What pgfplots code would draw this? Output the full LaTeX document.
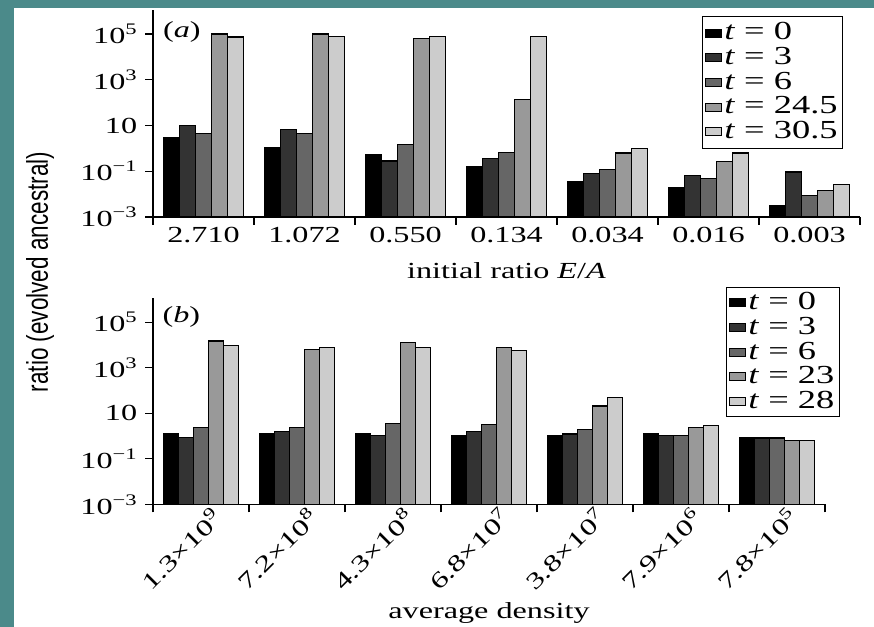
\documentclass[border=0pt]{standalone}
\usepackage{fontspec}
\setmainfont[FakeStretch=1.4]{Liberation Serif}
\newfontfamily\ylabfont[FakeStretch=0.75]{Liberation Sans}
\usepackage{pgfplots}
\pgfplotsset{compat=1.18}
\definecolor{tealbg}{RGB}{75,138,138}
\definecolor{g1}{RGB}{0,0,0}
\definecolor{g2}{RGB}{51,51,51}
\definecolor{g3}{RGB}{102,102,102}
\definecolor{g4}{RGB}{153,153,153}
\definecolor{g5}{RGB}{204,204,204}
\begin{document}
\fontsize{23bp}{27bp}\selectfont
\begin{tikzpicture}[x=1bp,y=1bp]
\useasboundingbox (0,0) rectangle (874,627);
\fill[tealbg] (0,0) rectangle (874,627);
\fill[white] (14,0) rectangle (874,619);
\node[rotate=90, font=\ylabfont\fontsize{30bp}{34bp}\selectfont] at (40,355) {ratio (evolved ancestral)};

\begin{axis}[
  scale only axis, anchor=south west,
  at={(153bp,410bp)}, width=707bp, height=207bp,
  xmin=-0.5, xmax=6.5,
  ymode=log, ymin=1e-3, ymax=1.12e6, log origin y=infty,
  axis lines=left, axis line style={-, line width=1.3bp},
  ytick={1e-3,1e-1,1e1,1e3,1e5},
  minor ytick={1e-3,1e-1,1e1,1e3,1e5},
  yticklabels={10\textsuperscript{−3},10\textsuperscript{−1},10,10\textsuperscript{3},10\textsuperscript{5}},
  tick align=outside, major tick length=0pt, minor tick length=8bp,
  tick style={line width=1.3bp, black},
  xtick={0,1,2,3,4,5,6},
  minor xtick={-0.5,0.5,...,6.5},
  xticklabels={2.710,1.072,0.550,0.134,0.034,0.016,0.003},
  yticklabel style={xshift=-8bp},
  xticklabel style={yshift=-2bp},
  ybar=0pt, bar width=16bp,
  legend cell align=left,
  legend image code/.code={\draw[#1, line width=1bp] (8bp,-4bp) rectangle (24bp,4bp);},
  legend style={draw=black, line width=1bp, inner xsep=3bp, inner ysep=4bp, row sep=0bp, anchor=north east, at={(0.976,0.97)},
    nodes={font=\fontsize{26bp}{28bp}\selectfont}},
  clip=false,
  xlabel={initial ratio \textit{E}/\textit{A}},
  xlabel style={at={(axis description cs:0.5,0)}, anchor=base, yshift=-62bp},
]
\addplot[fill=g1, draw=black, line width=1.2bp] coordinates {(0,3.0) (1,1.05) (2,0.53) (3,0.155) (4,0.034) (5,0.019) (6,0.0032)};
\addplot[fill=g2, draw=black, line width=1.2bp] coordinates {(0,10) (1,6.9) (2,0.28) (3,0.35) (4,0.079) (5,0.063) (6,0.093)};
\addplot[fill=g3, draw=black, line width=1.2bp] coordinates {(0,4.4) (1,4.5) (2,1.5) (3,0.66) (4,0.12) (5,0.048) (6,0.0089)};
\addplot[fill=g4, draw=black, line width=1.2bp] coordinates {(0,1.0e5) (1,1.0e5) (2,6.5e4) (3,138) (4,0.63) (5,0.26) (6,0.014)};
\addplot[fill=g5, draw=black, line width=1.2bp] coordinates {(0,7.4e4) (1,7.5e4) (2,8.0e4) (3,8.0e4) (4,1.0) (5,0.63) (6,0.027)};
\legend{\textit{t} = 0, \textit{t} = 3, \textit{t} = 6, \textit{t} = 24.5, \textit{t} = 30.5}
\node[anchor=north west, inner sep=0pt] at (rel axis cs:0.014,0.945) {(\textit{a})};
\end{axis}

\begin{axis}[
  scale only axis, anchor=south west,
  at={(153bp,122.7bp)}, width=672bp, height=206bp,
  xmin=-0.5, xmax=6.5,
  ymode=log, ymin=1e-3, ymax=1.12e6, log origin y=infty,
  axis lines=left, axis line style={-, line width=1.3bp},
  ytick={1e-3,1e-1,1e1,1e3,1e5},
  minor ytick={1e-3,1e-1,1e1,1e3,1e5},
  yticklabels={10\textsuperscript{−3},10\textsuperscript{−1},10,10\textsuperscript{3},10\textsuperscript{5}},
  tick align=outside, major tick length=0pt, minor tick length=8bp,
  tick style={line width=1.3bp, black},
  xtick={0,1,2,3,4,5,6},
  minor xtick={-0.5,0.5,...,6.5},
  xticklabels={1.3×10\textsuperscript{9},7.2×10\textsuperscript{8},4.3×10\textsuperscript{8},6.8×10\textsuperscript{7},3.8×10\textsuperscript{7},7.9×10\textsuperscript{6},7.8×10\textsuperscript{5}},
  yticklabel style={xshift=-8bp},
  xticklabel style={xshift=9bp, yshift=10bp, rotate=45, anchor=north east},
  ybar=0pt, bar width=15bp,
  legend cell align=left,
  legend image code/.code={\draw[#1, line width=1bp] (6bp,-4bp) rectangle (22bp,4bp);},
  legend style={draw=black, line width=1bp, inner xsep=3bp, inner ysep=3bp, row sep=0bp, anchor=north east, at={(1.022,1.055)},
    nodes={font=\fontsize{26bp}{28bp}\selectfont}},
  clip=false,
  xlabel={average density},
  xlabel style={at={(axis description cs:0.5,0)}, anchor=base, yshift=-113.7bp},
]
\addplot[fill=g1, draw=black, line width=1.2bp] coordinates {(0,1.3) (1,1.3) (2,1.3) (3,1.05) (4,1.05) (5,1.26) (6,0.81)};
\addplot[fill=g2, draw=black, line width=1.2bp] coordinates {(0,0.85) (1,1.55) (2,1.05) (3,1.55) (4,1.23) (5,1.05) (6,0.81)};
\addplot[fill=g3, draw=black, line width=1.2bp] coordinates {(0,2.4) (1,2.4) (2,3.6) (3,3.1) (4,1.9) (5,1.05) (6,0.81)};
\addplot[fill=g4, draw=black, line width=1.2bp] coordinates {(0,1.5e4) (1,6.5e3) (2,1.26e4) (3,8.0e3) (4,21) (5,2.4) (6,0.65)};
\addplot[fill=g5, draw=black, line width=1.2bp] coordinates {(0,9.8e3) (1,8.0e3) (2,8.0e3) (3,5.5e3) (4,49) (5,3.0) (6,0.65)};
\legend{\textit{t} = 0, \textit{t} = 3, \textit{t} = 6, \textit{t} = 23, \textit{t} = 28}
\node[anchor=north west, inner sep=0pt] at (rel axis cs:0.014,0.959) {(\textit{b})};
\end{axis}
\end{tikzpicture}
\end{document}
